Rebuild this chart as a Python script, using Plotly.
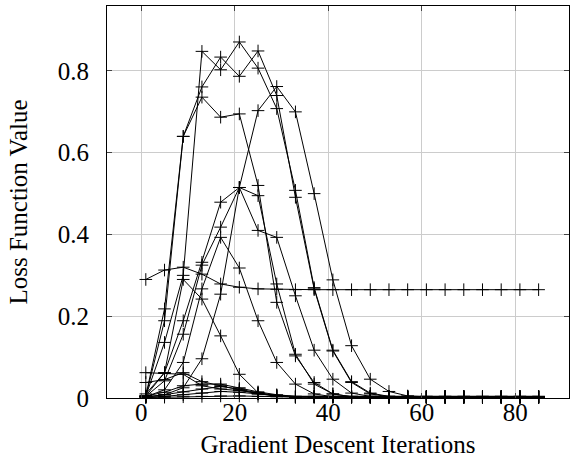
import plotly.graph_objects as go

iterations = [1, 5, 9, 13, 17, 21, 25, 29, 33, 37, 41, 45, 49, 53, 57, 61, 65, 69, 73, 77, 81, 85]

def pad(vals, floor):
    return vals + [floor] * (len(iterations) - len(vals))

flat_run = pad([0.290, 0.313, 0.320, 0.303, 0.279, 0.271, 0.267, 0.266], 0.265)
high_run_a = pad([0.005, 0.136, 0.300, 0.848, 0.803, 0.871, 0.807, 0.708, 0.508, 0.270, 0.117, 0.040, 0.012, 0.004], 0.002)
high_run_b = pad([0.005, 0.218, 0.640, 0.761, 0.834, 0.787, 0.849, 0.740, 0.491, 0.267, 0.115, 0.038, 0.010, 0.003], 0.002)
high_run_c = pad([0.004, 0.189, 0.640, 0.736, 0.687, 0.695, 0.520, 0.234, 0.103, 0.038, 0.010, 0.003], 0.002)
late_run = pad([0.002, 0.008, 0.025, 0.096, 0.254, 0.515, 0.703, 0.762, 0.700, 0.500, 0.289, 0.128, 0.046, 0.016, 0.005], 0.003)
mid_run_a = pad([0.005, 0.062, 0.189, 0.332, 0.479, 0.515, 0.495, 0.279, 0.107, 0.034, 0.010, 0.003], 0.002)
mid_run_b = pad([0.004, 0.042, 0.156, 0.325, 0.418, 0.515, 0.410, 0.393, 0.250, 0.117, 0.046, 0.012, 0.004], 0.002)
mid_run_c = pad([0.003, 0.020, 0.087, 0.267, 0.393, 0.318, 0.189, 0.087, 0.034, 0.010, 0.003], 0.002)
early_run = pad([0.010, 0.062, 0.290, 0.242, 0.152, 0.058, 0.013, 0.004], 0.002)
low_run_a = pad([0.062, 0.060, 0.058, 0.030, 0.022, 0.018, 0.012, 0.006], 0.003)
low_run_b = pad([0.038, 0.045, 0.062, 0.040, 0.030, 0.020, 0.010, 0.005], 0.003)
low_run_c = pad([0.005, 0.014, 0.030, 0.034, 0.034, 0.025, 0.015, 0.008], 0.004)
low_run_d = pad([0.003, 0.008, 0.015, 0.022, 0.028, 0.022, 0.012, 0.006], 0.003)
low_run_e = pad([0.002, 0.004, 0.008, 0.012, 0.016, 0.014, 0.010, 0.006], 0.004)
low_run_f = pad([0.001, 0.002, 0.003, 0.004, 0.005, 0.005, 0.004, 0.003], 0.002)

series = [flat_run, high_run_a, high_run_b, high_run_c, late_run, mid_run_a, mid_run_b,
          mid_run_c, early_run, low_run_a, low_run_b, low_run_c, low_run_d, low_run_e, low_run_f]

x_ticks = [0, 20, 40, 60, 80]
y_ticks = [0, 0.2, 0.4, 0.6, 0.8]
y_tick_labels = ["0", "0.2", "0.4", "0.6", "0.8"]

fig = go.Figure()
for s in series:
    fig.add_trace(go.Scatter(
        x=iterations, y=s, mode="lines+markers", cliponaxis=False,
        line=dict(color="black", width=1),
        marker=dict(symbol="cross-thin", size=9, line=dict(width=1, color="black")),
        showlegend=False,
    ))

font = dict(family="Liberation Serif", size=25, color="black")
fig.update_layout(
    width=574, height=464,
    margin=dict(l=107, r=5, t=6, b=66),
    paper_bgcolor="white", plot_bgcolor="white",
    font=font,
    xaxis=dict(range=[-7.3, 91.5], tickvals=x_ticks, showgrid=True, gridcolor="#cccccc",
               gridwidth=1, zeroline=False, showline=True, linecolor="black", linewidth=1,
               mirror="allticks", ticks="inside", ticklen=5, tickcolor="#444",
               ticklabelstandoff=-8,
               title=dict(text="Gradient Descent Iterations", standoff=10, font=font)),
    yaxis=dict(range=[0, 0.959], tickvals=y_ticks, ticktext=y_tick_labels, showgrid=True,
               gridcolor="#cccccc", gridwidth=1, zeroline=False, showline=True,
               linecolor="black", linewidth=1, mirror="allticks", ticks="inside",
               ticklen=5, tickcolor="#444", ticklabelstandoff=12,
               title=dict(text="Loss Function Value", standoff=23, font=font)),
)

fig.write_html("out.html")
